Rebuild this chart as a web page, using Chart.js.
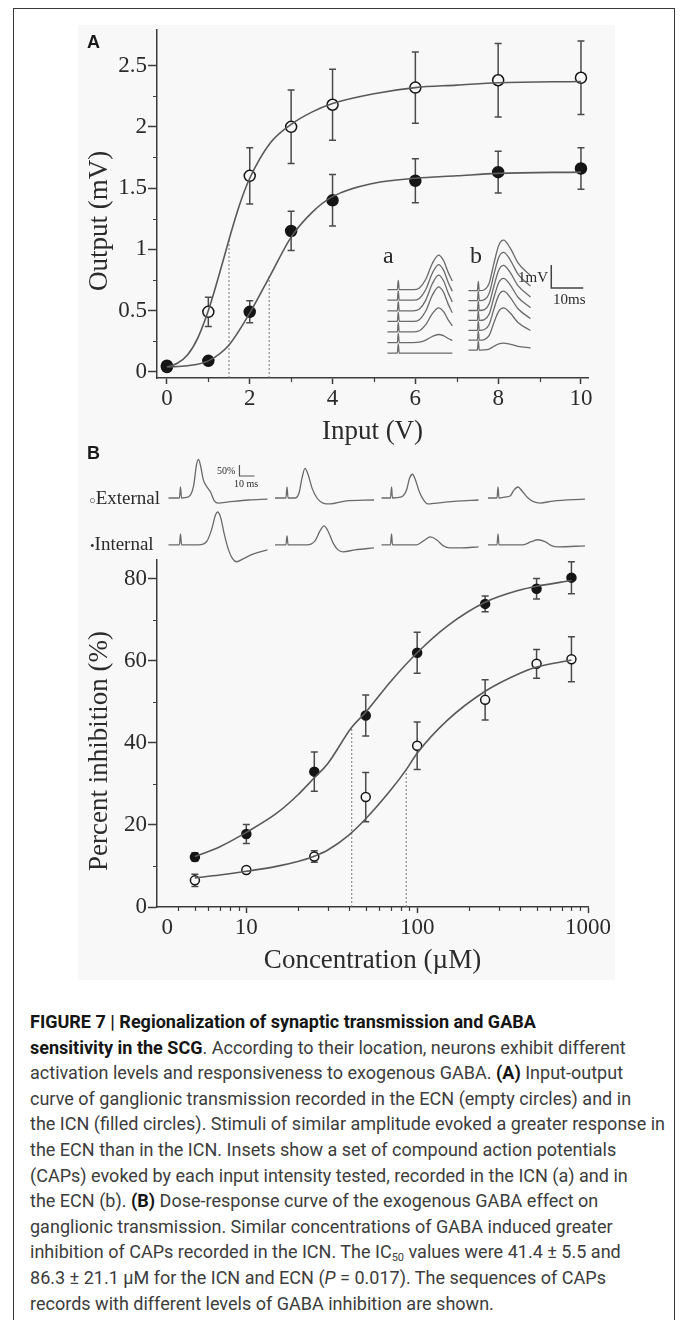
<!DOCTYPE html>
<html>
<head>
<meta charset="utf-8">
<script src="https://cdn.jsdelivr.net/npm/chart.js@4.4.1/dist/chart.umd.min.js"></script>
<style>
  html, body { margin: 0; padding: 0; background: #fff; }
  body { width: 683px; height: 1320px; position: relative; overflow: hidden; color: #2b2b2b;
         font-family: "Liberation Serif", "Times New Roman", serif; }
  #frame { position: absolute; left: 13px; top: 8px; width: 662px; height: 1340px;
           border: 1.5px solid #3a3a3a; box-sizing: border-box; }
  #figbg { position: absolute; left: 78px; top: 25px; width: 537px; height: 955px; background: #f8f8f8; }
  canvas { position: absolute; }
  .lbl { position: absolute; white-space: nowrap; line-height: 1; color: #2b2b2b; }
  #caption { position: absolute; left: 30px; top: 1009px; font-family: "Liberation Sans Narrow", "Roboto", "Liberation Sans", sans-serif;
             font-size: 18px; line-height: 25.6px; color: #3c3c3c; transform-origin: 0 0; }
  #caption .cl { white-space: nowrap; }
  #caption b { color: #151515; }
  #caption sub { font-size: 11px; vertical-align: -3px; line-height: 0; }
</style>
</head>
<body>
<div id="frame"></div>
<div id="figbg"></div>
<canvas id="chartA"></canvas>
<canvas id="insetA"></canvas>
<canvas id="insetB"></canvas>
<canvas id="chartB"></canvas>
<canvas id="rowExt"></canvas>
<canvas id="rowInt"></canvas>
<div id="caption">
  <div class="cl"><b>FIGURE 7 | Regionalization of synaptic transmission and GABA</b></div>
  <div class="cl"><b>sensitivity in the SCG</b>. According to their location, neurons exhibit different</div>
  <div class="cl">activation levels and responsiveness to exogenous GABA. <b>(A)</b> Input-output</div>
  <div class="cl">curve of ganglionic transmission recorded in the ECN (empty circles) and in</div>
  <div class="cl" id="refLine">the ICN (filled circles). Stimuli of similar amplitude evoked a greater response in</div>
  <div class="cl">the ECN than in the ICN. Insets show a set of compound action potentials</div>
  <div class="cl">(CAPs) evoked by each input intensity tested, recorded in the ICN (a) and in</div>
  <div class="cl">the ECN (b). <b>(B)</b> Dose-response curve of the exogenous GABA effect on</div>
  <div class="cl">ganglionic transmission. Similar concentrations of GABA induced greater</div>
  <div class="cl">inhibition of CAPs recorded in the ICN. The IC<sub>50</sub> values were 41.4 ± 5.5 and</div>
  <div class="cl">86.3 ± 21.1 µM for the ICN and ECN (<i>P</i> = 0.017). The sequences of CAPs</div>
  <div class="cl">records with different levels of GABA inhibition are shown.</div>
</div>
<script>
// panel A: input-output curves
const inputV = [0, 1, 2, 3, 4, 6, 8, 10];
const ecnOut = [0.04, 0.49, 1.60, 2.00, 2.18, 2.32, 2.38, 2.40];
const ecnOutErr = [0.03, 0.12, 0.23, 0.30, 0.29, 0.29, 0.30, 0.30];
const icnOut = [0.05, 0.09, 0.49, 1.15, 1.40, 1.56, 1.63, 1.66];
const icnOutErr = [0.02, 0.02, 0.09, 0.16, 0.21, 0.18, 0.17, 0.17];

const ecnFitV = [0, 0.25, 0.5, 0.75, 1, 1.25, 1.5, 1.75, 2, 2.5, 3, 3.5, 4, 5, 6, 7, 8, 10];
const ecnFitOut = [0.04, 0.07, 0.14, 0.28, 0.5, 0.78, 1.08, 1.36, 1.58, 1.87, 2.02, 2.12, 2.19, 2.27, 2.32, 2.34, 2.36, 2.37];
const icnFitV = [0, 0.5, 1, 1.5, 2, 2.5, 3, 3.5, 4, 5, 6, 7, 8, 10];
const icnFitOut = [0.04, 0.05, 0.09, 0.22, 0.48, 0.79, 1.1, 1.3, 1.43, 1.54, 1.58, 1.6, 1.62, 1.63];
const halfV = [1.5, 2.47];
const halfOut = [1.08, 0.79];

const xTicksA = [0, 2, 4, 6, 8, 10];
const xMinorA = [1, 3, 5, 7, 9];
const yTicksA = [0, 0.5, 1, 1.5, 2, 2.5];
const yMinorA = [0.25, 0.75, 1.25, 1.75, 2.25];

// insets a (ICN) and b (ECN): CAP shape (ms, normalised) and peak amplitudes (mV), lowest trace first
const capTimeA = [0, 3.1, 3.4, 3.7, 8, 10, 12, 14, 16, 17.5, 19, 20.3];
const capHumpA = [0, 0, 0, 0, 0, 0.05, 0.3, 0.75, 1, 0.85, 0.5, 0.25];
const capSpikeA = [0, 0, 0.4, 0, 0, 0, 0, 0, 0, 0, 0, 0];
const capAmpA = [0, 0.35, 1.05, 1.5, 1.55, 1.55, 1.5];
const capTimeB = [0, 2.8, 3.1, 3.4, 5, 6.5, 8, 9.5, 11, 13, 15.5, 19.4];
const capHumpB = [0, 0, 0, 0, 0.02, 0.15, 0.55, 0.9, 1, 0.85, 0.55, 0.3];
const capSpikeB = [0, 0, 0.4, 0, 0, 0, 0, 0, 0, 0, 0, 0];
const capAmpB = [0.3, 1.4, 1.7, 1.83, 1.96, 2.1, 2.2];

// panel B: dose-response
const concB = [5, 10, 25, 50, 100, 250, 500, 800];
const icnInh = [12.2, 17.8, 33.0, 46.7, 62.0, 73.9, 77.6, 80.3];
const icnInhErr = [1.0, 2.3, 4.8, 5.0, 5.0, 1.9, 2.5, 3.9];
const ecnInh = [6.5, 9.0, 12.3, 26.8, 39.3, 50.5, 59.3, 60.4];
const ecnInhErr = [1.5, 0.7, 1.4, 6.0, 5.8, 4.9, 3.5, 5.5];

const icnFitC = [5, 7, 10, 15, 20, 25, 30, 41.4, 50, 70, 100, 150, 250, 400, 500, 800];
const icnFitInh = [12.3, 14.7, 18.2, 22.8, 27.3, 31.5, 35, 43.8, 47.5, 55, 62, 68.5, 74.3, 77.3, 78.2, 79.6];
const ecnFitC = [5, 7, 10, 15, 20, 25, 30, 40, 50, 70, 86.3, 100, 150, 250, 400, 500, 800];
const ecnFitInh = [7.1, 7.8, 8.7, 9.9, 11.1, 12.4, 13.9, 17.6, 21.5, 28.5, 33.5, 37.5, 45.5, 52.6, 57, 58.5, 60.2];
const ic50 = [41.4, 86.3];
const ic50Inh = [43.8, 33.5];

const xTicksB = [3.45, 10, 100, 1000];
const xLabelsB = ['0', '10', '100', '1000'];
const xMinorB = [4, 5, 6, 7, 8, 9, 20, 30, 40, 50, 60, 70, 80, 90, 200, 300, 400, 500, 600, 700, 800, 900];
const yTicksB = [0, 20, 40, 60, 80];
const yMinorB = [10, 30, 50, 70];

// CAP sweeps above panel B (ms, % of control), 4 GABA levels
const extTime = [
  [0, 7.3, 8, 8.7, 13.3, 16.7, 18.7, 20, 21.3, 23.3, 25.3, 28, 30.7, 33.3, 40, 53.3, 66],
  [0, 7.3, 8, 8.7, 13.3, 16, 18, 20, 22, 24.7, 28, 32, 36.7, 46.7, 66],
  [0, 6, 6.7, 7.3, 13.3, 16.7, 18.7, 20.7, 22.7, 25.3, 28, 30.7, 36.7, 50, 64.7],
  [0, 6, 6.7, 7.3, 12, 14.7, 17.3, 20, 22.7, 26.7, 30.7, 34.7, 43.3, 64.7]
];
const extPct = [
  [0, 0, 50, 0, 5, 54, 153, 176, 149, 81, 54, 27, -14, -23, -18, -9, -5],
  [0, 0, 50, 0, 0, 23, 90, 135, 108, 45, 0, -23, -27, -14, -9],
  [0, 0, 50, 0, 5, 36, 90, 108, 81, 27, -9, -27, -23, -14, -9],
  [0, 0, 50, 0, 5, 9, 36, 50, 32, 0, -18, -23, -14, -5]
];
const intTime = [
  [0, 7.3, 8, 8.7, 20, 25.3, 28.7, 31.3, 32.7, 34.7, 37.3, 40, 42.7, 45.3, 50, 56.7, 66],
  [0, 7.3, 8, 8.7, 21.3, 26.7, 30, 32.7, 35.3, 38.7, 42, 45.3, 53.3, 66],
  [0, 6, 6.7, 7.3, 23.3, 28, 32.7, 36.7, 41.3, 45.3, 53.3, 64.7],
  [0, 6, 6.7, 7.3, 23.3, 28.7, 33.3, 38, 42.7, 46.7, 64.7]
];
const intPct = [
  [0, 0, 50, 0, 0, 14, 68, 135, 149, 126, 45, -23, -63, -77, -63, -41, -23],
  [0, 0, 41, 0, 0, 18, 63, 86, 63, 9, -23, -32, -23, -14],
  [0, 0, 50, 0, 0, 18, 36, 23, -5, -14, -14, -9],
  [0, 0, 50, 0, 0, 14, 23, 14, -5, -9, -5]
];

const serif = '"Liberation Serif", "Times New Roman", serif';
const sans = '"Liberation Sans", Arial, sans-serif';
const ink = '#2b2b2b';
const axisInk = '#3c3c3c';
const curveInk = '#595959';
const traceInk = '#6a6a6a';
const bg = '#f8f8f8';

function place(id, left, top, w, h) {
  const c = document.getElementById(id);
  c.width = Math.round(w); c.height = Math.round(h);
  c.style.left = left + 'px'; c.style.top = top + 'px';
  c.style.width = Math.round(w) + 'px'; c.style.height = Math.round(h) + 'px';
  return c;
}

function pts(xs, ys) { return xs.map((x, i) => ({x: x, y: ys[i]})); }

// error bars drawn under the markers
const errorBars = {
  id: 'errorBars',
  beforeDatasetsDraw(chart, args, opts) {
    const ctx = chart.ctx, xs = chart.scales.x, ys = chart.scales.y;
    ctx.save();
    ctx.strokeStyle = opts.color; ctx.lineWidth = 1.5;
    chart.data.datasets.forEach(ds => {
      if (!ds.errors) return;
      ds.data.forEach((p, i) => {
        const e = ds.errors[i];
        const px = xs.getPixelForValue(p.x);
        const y1 = ys.getPixelForValue(p.y + e), y2 = ys.getPixelForValue(p.y - e);
        ctx.beginPath();
        ctx.moveTo(px, y1); ctx.lineTo(px, y2);
        ctx.moveTo(px - opts.cap, y1); ctx.lineTo(px + opts.cap, y1);
        ctx.moveTo(px - opts.cap, y2); ctx.lineTo(px + opts.cap, y2);
        ctx.stroke();
      });
    });
    ctx.restore();
  }
};

// short unlabelled ticks
const minorTicks = {
  id: 'minorTicks',
  afterDraw(chart, args, opts) {
    const ctx = chart.ctx, a = chart.chartArea;
    ctx.save();
    ctx.strokeStyle = axisInk; ctx.lineWidth = 1.2;
    ctx.beginPath();
    (opts.x || []).forEach(v => {
      const px = Math.round(chart.scales.x.getPixelForValue(v)) + 0.5;
      ctx.moveTo(px, a.bottom); ctx.lineTo(px, a.bottom + opts.len);
    });
    (opts.y || []).forEach(v => {
      const py = Math.round(chart.scales.y.getPixelForValue(v)) + 0.5;
      ctx.moveTo(a.left, py); ctx.lineTo(a.left - opts.len, py);
    });
    ctx.stroke();
    ctx.restore();
  }
};

const tickFont = {family: serif, size: 23};
const titleFont = {family: serif, size: 27};

function axisX(extra) {
  return Object.assign({
    ticks: {font: tickFont, color: ink, padding: 1, maxRotation: 0, autoSkip: false},
    grid: {display: true, drawOnChartArea: false, drawTicks: true, tickLength: 6, tickColor: axisInk, tickWidth: 1.5},
    border: {display: true, color: axisInk, width: 1.5}
  }, extra);
}
function axisY(extra) {
  return Object.assign({
    ticks: {font: tickFont, color: ink, padding: 1, autoSkip: false, callback: v => String(v)},
    grid: {display: true, drawOnChartArea: false, drawTicks: true, tickLength: 9, tickColor: axisInk, tickWidth: 1.5},
    border: {display: true, color: axisInk, width: 1.5},
    afterFit: s => { s.width = 97; }
  }, extra);
}

function curve(xs, ys) {
  return {data: pts(xs, ys), showLine: true, pointRadius: 0, borderColor: curveInk, borderWidth: 1.6,
          cubicInterpolationMode: 'monotone', fill: false};
}
function dotted(x, yTop, yBase) {
  return {data: [{x: x, y: yBase}, {x: x, y: yTop}], showLine: true, pointRadius: 0,
          borderColor: '#777', borderWidth: 1, borderDash: [2, 2]};
}
function markers(xs, ys, errs, open, r) {
  return {data: pts(xs, ys), errors: errs, showLine: false, pointRadius: r, pointHoverRadius: r,
          pointBackgroundColor: open ? bg : '#151515', pointBorderColor: '#151515', pointBorderWidth: 1.5};
}

const baseOpts = {responsive: false, animation: false, events: [], devicePixelRatio: 1};

// ---- panel A ----
const yMinA = -0.05;
new Chart(place('chartA', 0, 0, 683, 460), {
  type: 'scatter',
  data: {datasets: [
    curve(ecnFitV, ecnFitOut),
    curve(icnFitV, icnFitOut),
    dotted(halfV[0], halfOut[0], yMinA),
    dotted(halfV[1], halfOut[1], yMinA),
    markers(inputV, icnOut, icnOutErr, false, 5.5),
    markers(inputV, ecnOut, ecnOutErr, true, 5.5)
  ]},
  options: Object.assign({}, baseOpts, {
    layout: {padding: {left: 60, right: 95, top: 30, bottom: 0}},
    plugins: {legend: {display: false}, tooltip: {enabled: false},
              errorBars: {color: '#4a4a4a', cap: 3.5},
              minorTicks: {x: xMinorA, y: yMinorA, len: 4}},
    scales: {
      x: axisX({type: 'linear', min: -0.24, max: 10.17,
        afterBuildTicks: s => { s.ticks = xTicksA.map(v => ({value: v})); },
        afterFit: s => { s.height = 82; },
        title: {display: true, text: 'Input (V)', font: titleFont, color: ink, padding: {top: 0, bottom: 12}}}),
      y: axisY({type: 'linear', min: yMinA, max: 2.79,
        afterBuildTicks: s => { s.ticks = yTicksA.map(v => ({value: v})); }})
    }
  }),
  plugins: [errorBars, minorTicks]
});

// inset traces (scale: 3.2 px per ms, 23 px per mV)
const msPxA = 3.2, mvPx = 23;
function insetChart(id, left0, base0, tMin, tMax, vTop, vBottom, times, hump, spike, amps, gap, bar) {
  const w = (tMax - tMin) * msPxA, h = (vTop - vBottom) * mvPx;
  const c = place(id, left0 + tMin * msPxA, base0 - vTop * mvPx, w, h);
  const sets = amps.map((amp, i) => ({
    data: times.map((t, k) => ({x: t, y: i * gap + spike[k] + amp * hump[k]})),
    showLine: true, pointRadius: 0, borderColor: traceInk, borderWidth: 1.3, cubicInterpolationMode: 'monotone'
  }));
  if (bar) {
    sets.push({data: [{x: bar.t, y: bar.v + 1}, {x: bar.t, y: bar.v}, {x: bar.t + 10, y: bar.v}],
               showLine: true, pointRadius: 0, borderColor: '#444', borderWidth: 1.5, tension: 0});
  }
  new Chart(c, {
    type: 'scatter',
    data: {datasets: sets},
    options: Object.assign({}, baseOpts, {
      layout: {padding: 0},
      plugins: {legend: {display: false}, tooltip: {enabled: false}},
      scales: {x: {display: false, min: tMin, max: tMin + c.width / msPxA},
               y: {display: false, min: vTop - c.height / mvPx, max: vTop}}
    })
  });
}
insetChart('insetA', 387, 353, -2, 23, 4.57, -0.35, capTimeA, capHumpA, capSpikeA, capAmpA, 0.46, null);
insetChart('insetB', 468, 350, -2, 37, 5.22, -0.35, capTimeB, capHumpB, capSpikeB, capAmpB, 0.43, {t: 25.9, v: 2.7});

// ---- panel B ----
new Chart(place('chartB', 0, 540, 683, 450), {
  type: 'scatter',
  data: {datasets: [
    curve(icnFitC, icnFitInh),
    curve(ecnFitC, ecnFitInh),
    dotted(ic50[0], ic50Inh[0], 0),
    dotted(ic50[1], ic50Inh[1], 0),
    markers(concB, icnInh, icnInhErr, false, 4.5),
    markers(concB, ecnInh, ecnInhErr, true, 4.5)
  ]},
  options: Object.assign({}, baseOpts, {
    layout: {padding: {left: 60, right: 95, top: 20, bottom: 0}},
    plugins: {legend: {display: false}, tooltip: {enabled: false},
              errorBars: {color: '#4a4a4a', cap: 3.5},
              minorTicks: {x: xMinorB, y: yMinorB, len: 4}},
    scales: {
      x: axisX({type: 'logarithmic', min: 3.0, max: 1000,
        afterBuildTicks: s => { s.ticks = xTicksB.map(v => ({value: v})); },
        afterFit: s => { s.height = 83; },
        ticks: {font: tickFont, color: ink, padding: 1, maxRotation: 0, autoSkip: false,
                callback: (v, i) => xLabelsB[i]},
        grid: {display: true, drawOnChartArea: false, drawTicks: true, tickLength: 6, tickWidth: 1.5,
               tickColor: ctx => (ctx.tick && ctx.tick.value < 5) ? 'rgba(0,0,0,0)' : axisInk},
        title: {display: true, text: 'Concentration (µM)', font: titleFont, color: ink, padding: {top: 0, bottom: 13}}}),
      y: axisY({type: 'linear', min: 0, max: 84.6,
        afterBuildTicks: s => { s.ticks = yTicksB.map(v => ({value: v})); }})
    }
  }),
  plugins: [errorBars, minorTicks]
});

// CAP sweep rows (1.5 px per ms, 0.22 px per %)
const msPxB = 1.5, pctPx = 0.22, sweepGap = 71;
function sweepRow(id, left0, base0, vTop, vBottom, times, pcts, bar) {
  const tMin = -3, tMax = 285;
  const c = place(id, left0 + tMin * msPxB, base0 - vTop * pctPx, (tMax - tMin) * msPxB, (vTop - vBottom) * pctPx);
  const sets = times.map((ts, i) => ({
    data: ts.map((t, k) => ({x: t + i * sweepGap, y: pcts[i][k]})),
    showLine: true, pointRadius: 0, borderColor: traceInk, borderWidth: 1.3, cubicInterpolationMode: 'monotone'
  }));
  if (bar) {
    sets.push({data: [{x: bar.t, y: bar.v + 50}, {x: bar.t, y: bar.v}, {x: bar.t + 10, y: bar.v}],
               showLine: true, pointRadius: 0, borderColor: '#555', borderWidth: 1.2, tension: 0});
  }
  new Chart(c, {
    type: 'scatter',
    data: {datasets: sets},
    options: Object.assign({}, baseOpts, {
      layout: {padding: 0},
      plugins: {legend: {display: false}, tooltip: {enabled: false}},
      scales: {x: {display: false, min: tMin, max: tMin + c.width / msPxB},
               y: {display: false, min: vTop - c.height / pctPx, max: vTop}}
    })
  });
}
sweepRow('rowExt', 168, 498, 200, -60, extTime, extPct, {t: 47.3, v: 100});
sweepRow('rowInt', 168, 545, 190, -110, intTime, intPct, null);

// ---- text ----
function addText(html, x, baseline, size, opts) {
  opts = opts || {};
  const d = document.createElement('div');
  d.className = 'lbl';
  d.innerHTML = html;
  const fam = opts.family || serif;
  d.style.fontFamily = fam;
  d.style.fontSize = size + 'px';
  if (opts.weight) d.style.fontWeight = opts.weight;
  if (opts.color) d.style.color = opts.color;
  d.style.top = (baseline - (fam === sans ? 0.8465 : 0.8375) * size) + 'px';
  if (opts.right) d.style.right = (683 - x) + 'px'; else d.style.left = x + 'px';
  document.body.appendChild(d);
}
function addVertical(text, cx, cy, size) {
  const d = document.createElement('div');
  d.className = 'lbl';
  d.textContent = text;
  d.style.fontSize = size + 'px';
  d.style.left = cx + 'px'; d.style.top = cy + 'px';
  d.style.transform = 'translate(-50%, -50%) rotate(-90deg)';
  document.body.appendChild(d);
}

addText('A', 87, 48, 18, {family: sans, weight: 'bold', color: '#1a1a1a'});
addText('B', 87, 459, 18, {family: sans, weight: 'bold', color: '#1a1a1a'});
addVertical('Output (mV)', 98, 221, 27);
addVertical('Percent inhibition (%)', 98, 751, 27);
addText('a', 383, 263, 24);
addText('b', 470, 263, 24);
addText('1mV', 548, 283, 15, {right: true});
addText('10ms', 553, 305, 15);
addText('50%', 217, 474, 10);
addText('10 ms', 234, 487, 10);
addText('<span style="font-size:11px">○</span>External', 89, 504, 19);
addText('<span style="font-size:13px">•</span>Internal', 90, 550, 19);

// caption: stretch so the longest line spans the column
const cap = document.getElementById('caption');
const range = document.createRange();
range.selectNodeContents(document.getElementById('refLine'));
const textW = range.getBoundingClientRect().width;
cap.style.transform = 'scaleX(' + (635 / textW) + ')';
</script>
</body>
</html>
